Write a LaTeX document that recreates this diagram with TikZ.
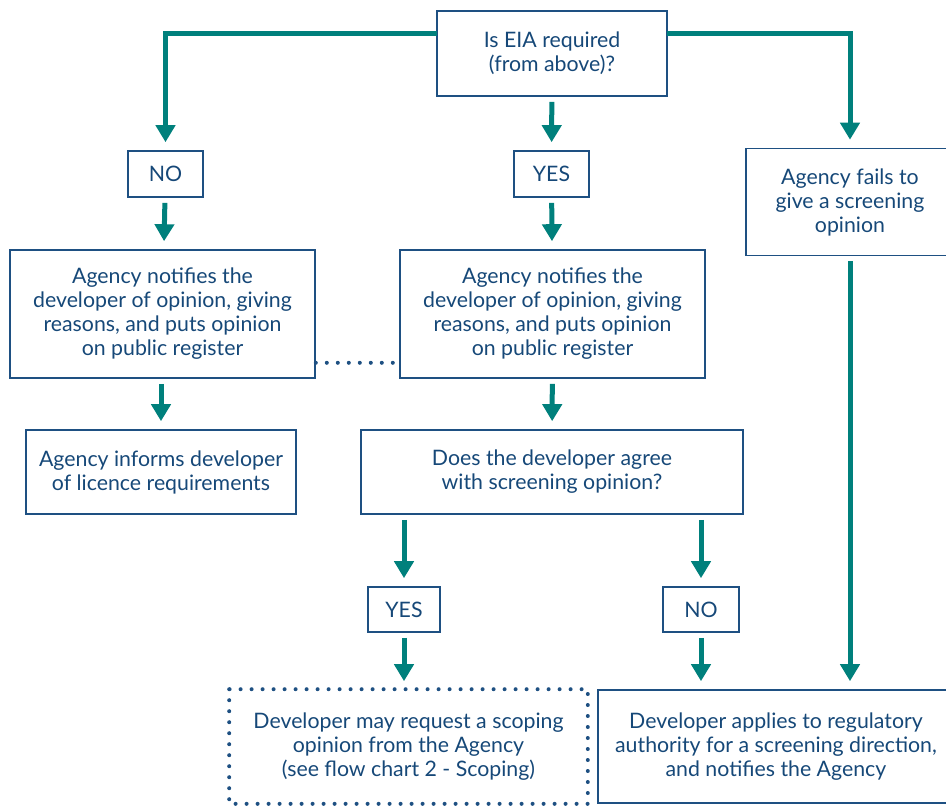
\documentclass[tikz,border=0pt]{standalone}
\usepackage{fontspec}
\setmainfont{Lato}
\usetikzlibrary{arrows.meta}
\definecolor{teal}{RGB}{0,128,124}
\definecolor{boxblue}{RGB}{30,80,130}
\definecolor{txtblue}{RGB}{22,72,120}
\begin{document}
\begin{tikzpicture}[x=1pt,y=-1pt]
\tikzset{
    fluxo/.style={draw=teal, line width=5pt, shorten <=5pt, shorten >=8pt,
                  -{Triangle[width=19pt,length=17pt]}},
    caixa/.style={rectangle, draw=boxblue, line width=1.6pt, text=txtblue,
                  align=center, inner sep=0pt,
                  font=\fontsize{21.3}{24}\selectfont},
    pontos/.style={draw=boxblue, line width=4pt, line cap=round,
                   dash pattern=on 0pt off 11pt}
}
\clip (0,0) rectangle (946,807);
\node[caixa, minimum width=230pt, minimum height=85pt]  (eia)   at (552,53.5)  {Is EIA required\\(from above)?};
\node[caixa, minimum width=75pt,  minimum height=46pt]  (nao1)  at (165.5,174) {NO};
\node[caixa, minimum width=75pt,  minimum height=46pt]  (sim1)  at (551.5,174) {YES};
\node[caixa, minimum width=208pt, minimum height=107pt] (falha) at (850,202) {Agency fails to\\give a screening\\opinion};
\node[caixa, minimum width=305pt, minimum height=128pt] (notE)  at (162.5,314) {Agency notifies the\\developer of opinion, giving\\reasons, and puts opinion\\on public register};
\node[caixa, minimum width=305pt, minimum height=128pt] (notD)  at (552.5,314) {Agency notifies the\\developer of opinion, giving\\reasons, and puts opinion\\on public register};
\node[caixa, minimum width=270pt, minimum height=84pt]  (info)  at (161,472)   {Agency informs developer\\of licence requirements};
\node[caixa, minimum width=382pt, minimum height=84pt]  (acordo) at (552,472)  {Does the developer agree\\with screening opinion?};
\node[caixa, minimum width=72pt,  minimum height=45pt]  (sim2)  at (404,609.5) {YES};
\node[caixa, minimum width=76pt,  minimum height=45pt]  (nao2)  at (701,609.5) {NO};
\node[caixa, draw=none, minimum width=357pt, minimum height=113pt] (escopo) at (408.5,746.5) {Developer may request a scoping\\opinion from the Agency\\(see flow chart 2 - Scoping)};
\node[caixa, minimum width=356pt, minimum height=113pt] (direcao) at (776,746.5) {Developer applies to regulatory\\authority for a screening direction,\\and notifies the Agency};
\draw[pontos] (escopo.north west) rectangle (escopo.south east);
\coordinate (esq) at (437,33);
\coordinate (dir) at (667,33);
\draw[fluxo, shorten <=0pt] (esq) -| (nao1);
\draw[fluxo, shorten <=0pt] (dir) -| (falha);
\draw[fluxo] (eia) -- (sim1);
\draw[fluxo] (nao1) -- (notE);
\draw[fluxo] (sim1) -- (notD);
\draw[fluxo] (notE.south -| info) -- (info);
\draw[fluxo] (notD) -- (acordo);
\draw[fluxo] (acordo.south -| sim2) -- (sim2);
\draw[fluxo] (acordo.south -| nao2) -- (nao2);
\draw[fluxo] (sim2) -- (escopo.north -| sim2);
\draw[fluxo] (nao2) -- (direcao.north -| nao2);
\draw[fluxo] (falha) -- (direcao.north -| falha);
\draw[pontos] ([yshift=16pt]notE.south east) -- ([yshift=16pt]notD.south west);
\end{tikzpicture}
\end{document}
